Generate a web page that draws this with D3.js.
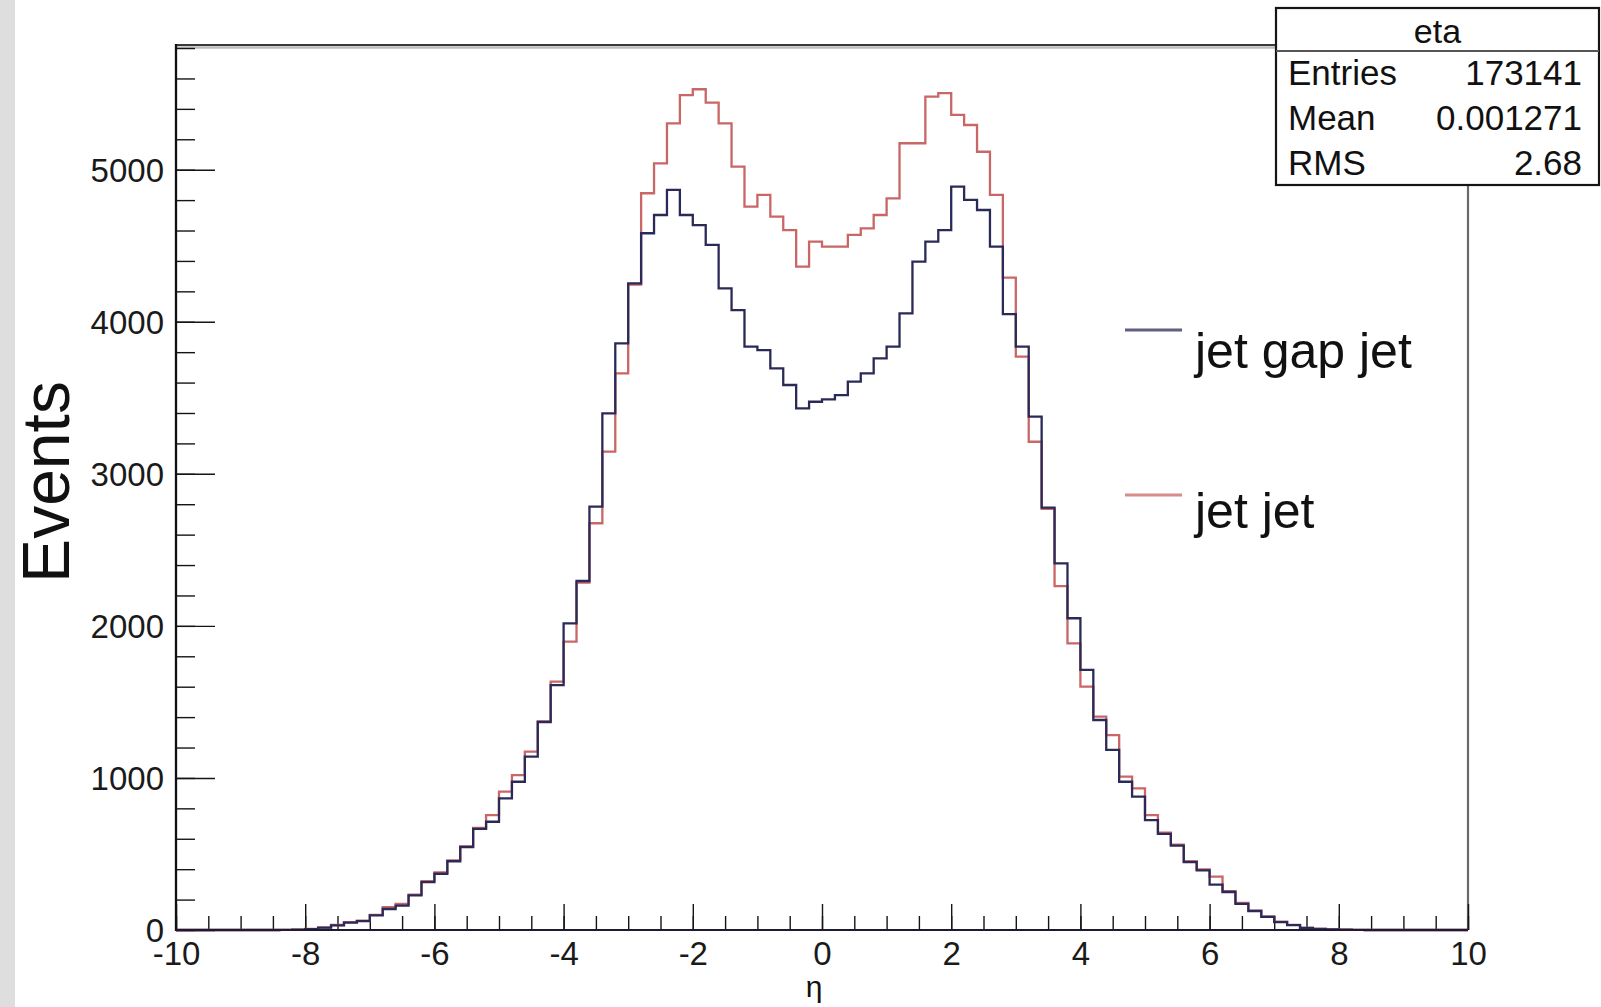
<!DOCTYPE html>
<html>
<head>
<meta charset="utf-8">
<script src="https://cdn.jsdelivr.net/npm/d3@7"></script>
<style>
  body { margin: 0; background: #fff; }
  svg { display: block; font-family: 'Liberation Sans', Arial, sans-serif; }
</style>
</head>
<body>
<svg id="chart" width="1601" height="1007"></svg>
<script>
// eta histogram: 100 bins of 0.2 between -10 and 10
const xMin = -10;
const xMax = 10;
const binWidth = 0.2;

// counts per bin
const jetJet = [
  0, 0, 0, 0, 0, 0, 0, 0, 1, 3,
  7, 16, 33, 52, 62, 100, 150, 172, 232, 322,
  378, 458, 552, 672, 756, 910, 1019, 1173, 1372, 1633,
  1896, 2285, 2675, 3146, 3661, 4245, 4845, 5042, 5305, 5491,
  5529, 5441, 5305, 5020, 4757, 4834, 4691, 4603, 4362, 4527,
  4494, 4494, 4571, 4614, 4702, 4812, 5174, 5174, 5481, 5503,
  5360, 5294, 5118, 4834, 4290, 3771, 3211, 2770, 2262, 1885,
  1600, 1403, 1282, 1008, 931, 756, 640, 562, 452, 398,
  351, 255, 178, 128, 90, 55, 34, 14, 8, 4,
  2, 1, 0, 0, 0, 0, 0, 0, 0, 0
];
const jetGapJet = [
  0, 0, 0, 0, 0, 0, 0, 0, 1, 3,
  6, 15, 31, 48, 58, 96, 138, 160, 228, 315,
  370, 452, 545, 665, 712, 866, 975, 1140, 1368, 1610,
  2017, 2295, 2784, 3398, 3858, 4253, 4582, 4702, 4867, 4702,
  4636, 4505, 4220, 4077, 3836, 3814, 3694, 3584, 3431, 3474,
  3490, 3518, 3606, 3661, 3759, 3836, 4055, 4395, 4527, 4603,
  4888, 4801, 4735, 4494, 4050, 3836, 3376, 2778, 2411, 2050,
  1710, 1381, 1184, 975, 877, 723, 632, 555, 446, 392,
  298, 250, 172, 125, 86, 52, 32, 13, 7, 4,
  2, 1, 0, 0, 0, 0, 0, 0, 0, 0
];

const seriesNames = ['jet gap jet', 'jet jet'];
const xTicks = [-10, -8, -6, -4, -2, 0, 2, 4, 6, 8, 10];
const yTicks = [0, 1000, 2000, 3000, 4000, 5000];
const yMax = 5820;

const statsTitle = 'eta';
const statsLabels = ['Entries', 'Mean', 'RMS'];
const statsValues = ['173141', '0.001271', '2.68'];

const colors = {'jet jet': '#c96666', 'jet gap jet': '#2a2a58'};

const frame = {left: 176, right: 1468, top: 45, bottom: 930};

const svg = d3.select('#chart');

// grey strip on the canvas edge
svg.append('rect').
  attr('x', 0).attr('y', 0).attr('width', 15).attr('height', 1007).
  attr('fill', '#dedede');

const x = d3.scaleLinear().domain([xMin, xMax]).range([frame.left, frame.right]);
const y = d3.scaleLinear().domain([0, yMax]).range([frame.bottom, frame.top]);

// frame: top and right edges
svg.append('line').
  attr('x1', frame.left).attr('x2', frame.right).
  attr('y1', frame.top + 2.5).attr('y2', frame.top + 2.5).
  attr('stroke', '#bdbdbd').attr('stroke-width', 2.5);
svg.append('line').
  attr('x1', frame.left).attr('x2', frame.right).
  attr('y1', frame.top).attr('y2', frame.top).
  attr('stroke', '#3a3a3a').attr('stroke-width', 2.2);
svg.append('line').
  attr('x1', frame.right).attr('x2', frame.right).
  attr('y1', frame.top).attr('y2', frame.bottom).
  attr('stroke', '#6a6a6a').attr('stroke-width', 2.2);

// ticks point inwards, as in ROOT
const xMinor = d3.range(xMin, xMax + 0.001, 0.5);
const yMinor = d3.range(0, yMax, 200);

const xMinorAxis = svg.append('g').
  attr('transform', `translate(0,${frame.bottom})`).
  call(d3.axisBottom(x).tickValues(xMinor).tickSize(-14).tickSizeOuter(0).tickFormat(''));
const xAxis = svg.append('g').
  attr('transform', `translate(0,${frame.bottom})`).
  call(d3.axisBottom(x).tickValues(xTicks).tickSize(-26).tickSizeOuter(0).tickPadding(12).
    tickFormat((d) => String(d)));
const yMinorAxis = svg.append('g').
  attr('transform', `translate(${frame.left},0)`).
  call(d3.axisLeft(y).tickValues(yMinor).tickSize(-19).tickSizeOuter(0).tickFormat(''));
const yAxis = svg.append('g').
  attr('transform', `translate(${frame.left},0)`).
  call(d3.axisLeft(y).tickValues(yTicks).tickSize(-39).tickSizeOuter(0).tickPadding(12).
    tickFormat((d) => String(d)));

[xMinorAxis, xAxis, yMinorAxis, yAxis].forEach((g) => {
  g.select('.domain').remove();
  g.selectAll('.tick line').attr('stroke', '#151515').attr('stroke-width', 1.4);
});
[xAxis, yAxis].forEach((g) => {
  g.selectAll('.tick text').
    attr('font-family', "'Liberation Sans', Arial, sans-serif").
    attr('font-size', 33).
    attr('fill', '#1a1a1a');
});
yAxis.selectAll('.tick text').attr('dy', '0.35em');

// histogram outlines drawn as steps
const histLine = d3.line().
  x((d) => x(d[0])).
  y((d) => y(d[1])).
  curve(d3.curveStepAfter);

const toSteps = (values) => values.
  map((v, i) => [xMin + i * binWidth, v]).
  concat([[xMax, values[values.length - 1]]]);

const series = [
  {name: 'jet jet', values: jetJet},
  {name: 'jet gap jet', values: jetGapJet}
];

svg.selectAll('.hist').data(series).enter().
  append('path').
    attr('class', 'hist').
    attr('d', (s) => histLine(toSteps(s.values))).
    attr('fill', 'none').
    attr('stroke', (s) => colors[s.name]).
    attr('stroke-width', 2.3);

// axis lines on top of the outlines
svg.append('line').
  attr('x1', frame.left).attr('x2', frame.left).
  attr('y1', frame.top - 1).attr('y2', frame.bottom + 1).
  attr('stroke', '#111').attr('stroke-width', 2.3);
svg.append('line').
  attr('x1', frame.left).attr('x2', frame.right).
  attr('y1', frame.bottom).attr('y2', frame.bottom).
  attr('stroke', '#1e1a30').attr('stroke-width', 2.2);

// axis titles
svg.append('text').
  attr('transform', 'translate(69,482) rotate(-90)').
  attr('text-anchor', 'middle').
  attr('font-size', 66).
  attr('fill', '#111').
  text('Events');
svg.append('text').
  attr('x', 814).attr('y', 997).
  attr('text-anchor', 'middle').
  attr('font-size', 30).
  attr('fill', '#111').
  text('η');

// legend, no border
const legend = svg.selectAll('.legend').data(seriesNames).enter().
  append('g').
    attr('class', 'legend').
    attr('transform', (d, i) => `translate(1125,${330 + i * 165})`);
legend.append('line').
  attr('x1', 0).attr('x2', 57).
  attr('stroke', (d) => colors[d]).
  attr('stroke-opacity', 0.75).
  attr('stroke-width', 3);
legend.append('text').
  attr('x', 70).attr('y', (d, i) => 38 - i * 5).
  attr('font-size', 50).
  attr('fill', '#111').
  text((d) => d);

// stats box
const stats = svg.append('g');
stats.append('rect').
  attr('x', 1276).attr('y', 8).attr('width', 323).attr('height', 177).
  attr('fill', '#fff').attr('stroke', '#151515').attr('stroke-width', 2.2);
stats.append('line').
  attr('x1', 1276).attr('x2', 1599).attr('y1', 51).attr('y2', 51).
  attr('stroke', '#555').attr('stroke-width', 2);
stats.append('text').
  attr('x', 1437.5).attr('y', 43).
  attr('text-anchor', 'middle').
  attr('font-size', 34).attr('fill', '#111').
  text(statsTitle);
stats.selectAll('.stat-label').data(statsLabels).enter().
  append('text').
    attr('class', 'stat-label').
    attr('x', 1288).attr('y', (d, i) => 85 + i * 45).
    attr('font-size', 35).attr('fill', '#111').
    text((d) => d);
stats.selectAll('.stat-value').data(statsValues).enter().
  append('text').
    attr('class', 'stat-value').
    attr('x', 1582).attr('y', (d, i) => 85 + i * 45).
    attr('text-anchor', 'end').
    attr('font-size', 35).attr('fill', '#111').
    text((d) => d);
</script>
</body>
</html>
